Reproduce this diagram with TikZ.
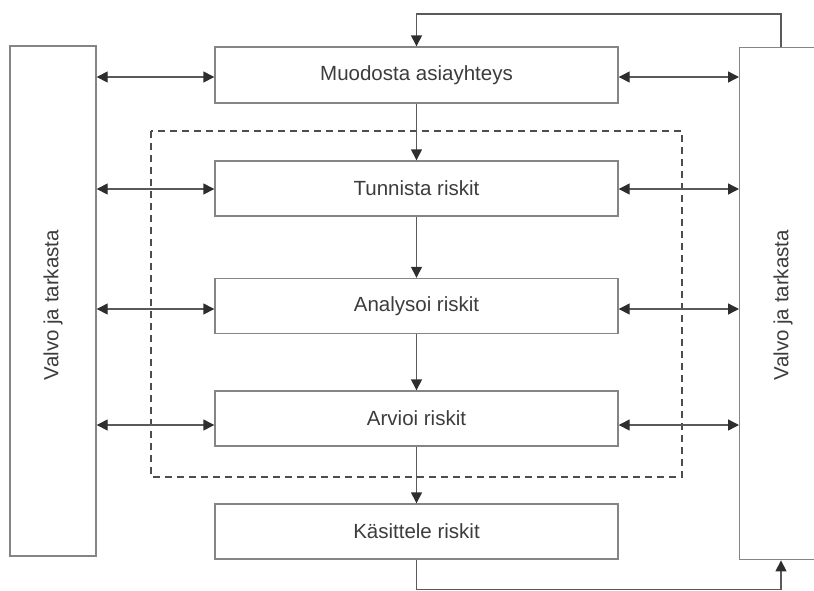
\documentclass[tikz,border=0pt]{standalone}
\usepackage{fontspec}
\setmainfont{Liberation Sans}
\usetikzlibrary{arrows.meta}
\definecolor{boxline}{HTML}{858585}
\definecolor{flowline}{HTML}{5A5A5A}
\definecolor{tipcol}{HTML}{2E2E2E}
\definecolor{txt}{HTML}{3C3C3C}
\tikzset{
  labelfont/.style={font=\fontsize{20.5}{24}\selectfont},
  stepbox/.style={draw=boxline, line width=1.4pt, minimum width=403pt,
    minimum height=55pt, inner sep=0pt, text=txt, labelfont},
  sidebox/.style={draw=boxline, line width=1.4pt, inner sep=0pt},
  tip/.style={Triangle[length=11pt,width=11pt,color=tipcol]},
  flow/.style={draw=flowline, line width=1.4pt, -{Triangle[length=11pt,width=11pt,color=tipcol]}},
  twoway/.style={draw=flowline, line width=1.4pt,
    {Triangle[length=11pt,width=11pt,color=tipcol]}-{Triangle[length=11pt,width=11pt,color=tipcol]}},
  scopebox/.style={draw=tipcol!85, line width=1.5pt, dash pattern=on 7pt off 5pt}
}
\begin{document}
\begin{tikzpicture}[x=1pt,y=-1pt]
  \useasboundingbox (0,0) rectangle (814,590);
  \clip (0,0) rectangle (814,590);

  % monitoring columns on both sides
  \node[sidebox, minimum width=86pt, minimum height=510pt] (L) at (53,301) {};
  \node[rotate=90, text=txt, labelfont] (Ltext) at (53,305) {Valvo ja tarkasta};
  \node[sidebox, minimum width=160pt, minimum height=512pt, anchor=north west] (R) at (739,47) {};
  \node[rotate=90, text=txt, labelfont] (Rtext) at (783,305) {Valvo ja tarkasta};

  % process steps
  \node[stepbox, minimum height=56pt] (M) at (416.5,75) {Muodosta asiayhteys};
  \node[stepbox] (T) at (416.5,188.5) {Tunnista riskit};
  \node[stepbox] (A) at (416.5,306) {Analysoi riskit};
  \node[stepbox] (V) at (416.5,418.5) {Arvioi riskit};
  \node[stepbox] (K) at (416.5,531.5) {Käsittele riskit};

  % risk assessment frame
  \coordinate (F1) at (151,131);
  \coordinate (F2) at (682,477);
  \draw[scopebox] (F1) rectangle (F2);

  % main flow
  \draw[flow] (M.south) -- (T.north);
  \draw[flow] (T.south) -- (A.north);
  \draw[flow] (A.south) -- (V.north);
  \draw[flow] (V.south) -- (K.north);

  % links to the monitoring columns (slightly below each box centre)
  \foreach \n/\dy in {M/-2, T/-0.5, A/-3, V/-6.5}{
    \draw[twoway] ([yshift=\dy pt]L.east |- \n.west) -- ([yshift=\dy pt]\n.west);
    \draw[twoway] ([yshift=\dy pt]\n.east) -- ([yshift=\dy pt]R.west |- \n.east);
  }

  % feedback loops
  \draw[flow] ([xshift=42pt]R.north west) -- ++(0,-33) -| (M.north);
  \draw[flow] (K.south) -- ++(0,30) -| ([xshift=42pt]R.south west);
\end{tikzpicture}
\end{document}
